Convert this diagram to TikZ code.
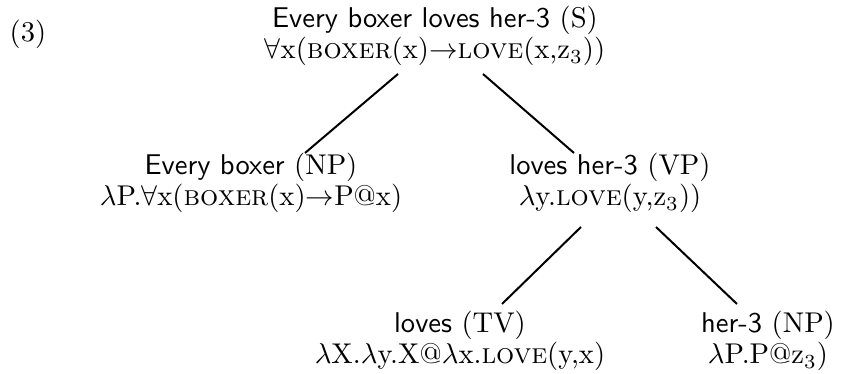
\documentclass[tikz,border=0pt]{standalone}
\usetikzlibrary{calc}
\begin{document}
\begin{tikzpicture}[x=0.35pt,y=-0.35pt,
  lab/.style={align=center,inner sep=0pt,font=\fontsize{10}{11}\selectfont},
  edge/.style={draw=black,line width=0.7pt}]
\useasboundingbox (0,0) rectangle (841,374);
\node[lab] (num) at (28,34) {(3)};
\node[lab] (top) at (435,36) {\textsf{Every boxer loves her-3} (S)\\ $\forall$x(\textsc{boxer}(x)$\rightarrow$\textsc{love}(x,z$_3$))};
\node[lab] (np) at (251,183) {\textsf{Every boxer} (NP)\\ $\lambda$P.$\forall$x(\textsc{boxer}(x)$\rightarrow$P@x)};
\node[lab] (vp) at (610,183) {\textsf{loves her-3} (VP)\\ $\lambda$y.\textsc{love}(y,z$_3$))};
\node[lab] (tv) at (460,341) {\textsf{loves} (TV)\\ $\lambda$X.$\lambda$y.X@$\lambda$x.\textsc{love}(y,x)};
\node[lab] (her) at (768,341) {\textsf{her-3} (NP)\\ $\lambda$P.P@z$_3$)};
\draw[edge] ($(top.center)+(-37,38)$) -- ($(np.center)+(54,-30)$);
\draw[edge] ($(top.center)+(48,38)$) -- ($(vp.center)+(-36,-30)$);
\draw[edge] ($(vp.center)+(-29,44)$) -- ($(tv.center)+(42,-37)$);
\draw[edge] ($(vp.center)+(46,44)$) -- ($(her.center)+(-31,-37)$);
\end{tikzpicture}
\end{document}
